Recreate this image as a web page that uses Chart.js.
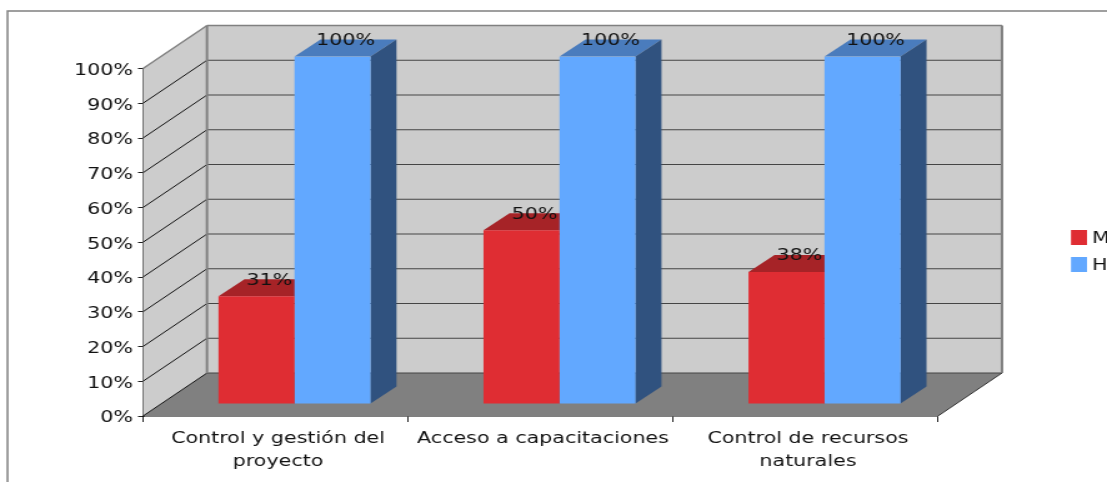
<!DOCTYPE html>
<html>
<head>
<meta charset="utf-8">
<title>Control por sexo</title>
<style>
    html, body { margin: 0; padding: 0; background: #fff; overflow: hidden; }
    canvas { display: block; transform-origin: 0 0; }
</style>
<script src="https://cdn.jsdelivr.net/npm/chart.js@4"></script>
</head>
<body>
<canvas id="grafica"></canvas>
<script>
const categorias = [
    ['Control y gestión del', 'proyecto'],
    'Acceso a capacitaciones',
    ['Control de recursos', 'naturales']
];
const mujeres = [31, 50, 38];
const hombres = [100, 100, 100];
const marcasEje = [0, 10, 20, 30, 40, 50, 60, 70, 80, 90, 100];

// the whole canvas is drawn narrow and widened with CSS, so type and lines get the same wide look
const ANCHO = 886;
const ALTO = 482;
const SX = 1107 / ANCHO;
const px = v => v / SX;
const FUENTE = '"DejaVu Sans"';

// perspective offsets, in page pixels
const FONDO = { x: 64, y: 43 };
const BASE = { x: 19, y: 12 };
const BARRA = { x: 26, y: 17 };

const canvas = document.getElementById('grafica');
canvas.width = ANCHO;
canvas.height = ALTO;
canvas.style.transform = `scaleX(${SX})`;

function poligono(ctx, puntos, relleno) {
    ctx.beginPath();
    puntos.forEach(([x, y], i) => i ? ctx.lineTo(x, y) : ctx.moveTo(x, y));
    ctx.closePath();
    ctx.fillStyle = relleno;
    ctx.fill();
}

function linea(ctx, x1, y1, x2, y2, color, ancho) {
    ctx.beginPath();
    ctx.moveTo(x1, y1);
    ctx.lineTo(x2, y2);
    ctx.strokeStyle = color;
    ctx.lineWidth = ancho;
    ctx.stroke();
}

const marcoExterior = {
    id: 'marcoExterior',
    beforeDraw(chart) {
        const { ctx } = chart;
        ctx.save();
        ctx.strokeStyle = '#808080';
        ctx.lineWidth = 1.5;
        ctx.strokeRect(px(7.5), 11, ANCHO + 20, ALTO + 20);
        ctx.restore();
    }
};

const caja3d = {
    id: 'caja3d',
    beforeDatasetsDraw(chart) {
        const { ctx, chartArea: a, scales: { y } } = chart;
        const fx = px(FONDO.x), fy = FONDO.y;
        ctx.save();

        // side wall, back wall and floor
        poligono(ctx, [[a.left, a.top], [a.left + fx, a.top - fy], [a.left + fx, a.bottom - fy], [a.left, a.bottom]], '#cccccc');
        poligono(ctx, [[a.left + fx, a.top - fy], [a.right + fx, a.top - fy], [a.right + fx, a.bottom - fy], [a.left + fx, a.bottom - fy]], '#cccccc');
        poligono(ctx, [[a.left, a.bottom], [a.right, a.bottom], [a.right + fx, a.bottom - fy], [a.left + fx, a.bottom - fy]], '#808080');

        marcasEje.forEach(v => {
            const yp = y.getPixelForValue(v);
            if (v < 100) {
                linea(ctx, a.left, yp, a.left + fx, yp - fy, '#111', 1);
                linea(ctx, a.left + fx, yp - fy, a.right + fx, yp - fy, '#444', 1.2);
            }
        });

        linea(ctx, a.left, a.top, a.left + fx, a.top - fy, '#808080', 1.5);
        linea(ctx, a.left + fx, a.top - fy, a.right + fx, a.top - fy, '#808080', 1.5);
        linea(ctx, a.left + fx, a.top - fy, a.left + fx, a.bottom - fy, '#808080', 2);
        linea(ctx, a.right + fx, a.top - fy, a.right + fx, a.bottom - fy, '#808080', 2);
        linea(ctx, a.right, a.bottom, a.right + fx, a.bottom - fy, '#333', 1);

        // top and side faces of each bar, the front comes from the library
        const bx = px(BASE.x), dx = px(BARRA.x), dy = BARRA.y;
        chart.data.datasets.forEach((ds, i) => {
            chart.getDatasetMeta(i).data.forEach(barra => {
                const izq = barra.x - barra.width / 2 + bx;
                const der = barra.x + barra.width / 2 + bx;
                const arriba = barra.y - BASE.y;
                const abajo = barra.base - BASE.y;
                poligono(ctx, [[izq, arriba], [der, arriba], [der + dx, arriba - dy], [izq + dx, arriba - dy]], ds.colorTapa);
                poligono(ctx, [[der, arriba], [der + dx, arriba - dy], [der + dx, abajo - dy], [der, abajo]], ds.colorLado);
            });
        });
        ctx.restore();

        ctx.save();
        ctx.translate(bx, -BASE.y);
    },
    afterDatasetsDraw(chart) {
        const { ctx } = chart;
        ctx.restore();

        ctx.save();
        ctx.font = `16.5px ${FUENTE}`;
        ctx.fillStyle = '#111';
        ctx.textAlign = 'center';
        ctx.textBaseline = 'middle';
        chart.data.datasets.forEach((ds, i) => {
            chart.getDatasetMeta(i).data.forEach((barra, j) => {
                ctx.fillText(ds.data[j] + '%', barra.x + px(BASE.x + BARRA.x / 2), barra.y - BASE.y - 16);
            });
        });
        ctx.restore();
    }
};

// legend with a tighter swatch-to-text gap than the built-in one
const leyenda = {
    id: 'leyenda',
    afterDraw(chart) {
        const { ctx } = chart;
        ctx.save();
        ctx.font = `16.5px ${FUENTE}`;
        ctx.textBaseline = 'middle';
        chart.data.datasets.forEach((ds, i) => {
            const y = 237.5 + i * 27;
            ctx.fillStyle = ds.backgroundColor;
            ctx.fillRect(px(1071), y - 7.5, px(16), 15);
            ctx.fillStyle = '#111';
            ctx.fillText(ds.label, px(1092), y + 1);
        });
        ctx.restore();
    }
};

new Chart(canvas, {
    type: 'bar',
    data: {
        labels: categorias,
        datasets: [
            { label: 'M', data: mujeres, backgroundColor: '#df2d33', colorTapa: '#a62327', colorLado: '#7d1a1d' },
            { label: 'H', data: hombres, backgroundColor: '#62a8ff', colorTapa: '#4a7cbd', colorLado: '#30527f' }
        ]
    },
    plugins: [marcoExterior, caja3d, leyenda],
    options: {
        responsive: false,
        animation: false,
        devicePixelRatio: 1,
        barPercentage: 1,
        categoryPercentage: 152 / 265,
        layout: { padding: { top: 68.5, bottom: 0, left: 0, right: px(1107 - 938) } },
        plugins: {
            tooltip: { enabled: false },
            legend: { display: false }
        },
        scales: {
            x: {
                grid: { drawOnChartArea: false, tickLength: 6, color: '#222', offset: true },
                border: { color: '#000', width: 1.5 },
                afterFit(eje) { eje.height = 66; },
                ticks: {
                    font: { family: FUENTE, size: 16.5, lineHeight: 1.4 },
                    color: '#111',
                    maxRotation: 0,
                    autoSkip: false,
                    padding: 5,
                    labelOffset: 2
                }
            },
            y: {
                min: 0,
                max: 100,
                afterFit(eje) { eje.width = px(143); },
                afterBuildTicks(eje) { eje.ticks = marcasEje.map(value => ({ value })); },
                grid: { drawOnChartArea: false, tickLength: px(5), color: '#222' },
                border: { color: '#000', width: 1.5 },
                ticks: {
                    font: { family: FUENTE, size: 16.5 },
                    color: '#111',
                    padding: px(5),
                    labelOffset: 2,
                    callback: v => v + '%'
                }
            }
        }
    }
});
</script>
</body>
</html>
